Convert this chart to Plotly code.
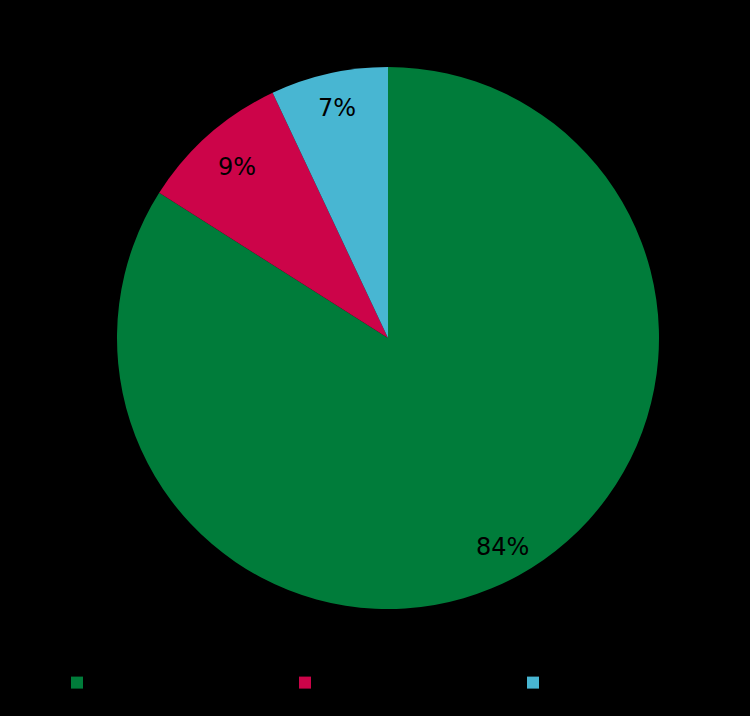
import math
import plotly.graph_objects as go

labels = ["Category A", "Category B", "Category C"]
values = [84, 9, 7]
colors = ["#007c3a", "#cc0449", "#48b6d2"]

W, H = 750, 716
cx_px, cy_px, R_px = 388, 338, 271
dom_x = [(cx_px - R_px) / W, (cx_px + R_px) / W]
dom_y = [(H - (cy_px + R_px)) / H, (H - (cy_px - R_px)) / H]

fig = go.Figure(go.Pie(
    labels=labels, values=values, sort=False, direction="clockwise", rotation=0,
    marker=dict(colors=colors, line=dict(width=0)),
    textinfo="none", hoverinfo="label+percent",
    domain=dict(x=dom_x, y=dom_y),
))

# percentage labels placed at each slice's mid-angle
total = sum(values)
cum = 0
radii = [0.88, 0.84, 0.87]
for v, rf in zip(values, radii):
    mid = (cum + v / 2) / total * 2 * math.pi
    cum += v
    x_px = cx_px + rf * R_px * math.sin(mid)
    y_px = cy_px - rf * R_px * math.cos(mid)
    fig.add_annotation(x=x_px / W, y=1 - y_px / H, xref="paper", yref="paper",
                       xanchor="center", yanchor="middle",
                       text=f"{round(v / total * 100)}%", showarrow=False,
                       font=dict(family="DejaVu Sans", size=24, color="#000000"))

fig.update_layout(
    width=W, height=H,
    paper_bgcolor="#000000", plot_bgcolor="#000000",
    margin=dict(l=0, r=0, t=0, b=0),
    showlegend=True,
    legend=dict(orientation="h", x=57 / W, xanchor="left", y=1 - 683 / H, yanchor="middle",
                entrywidth=183, entrywidthmode="pixels",
                font=dict(family="DejaVu Sans", size=14, color="#000000"),
                bgcolor="rgba(0,0,0,0)"),
)

fig.write_html("out.html", config={"displayModeBar": False},
               post_script="document.body.style.margin='0';document.body.style.background='#000';")
